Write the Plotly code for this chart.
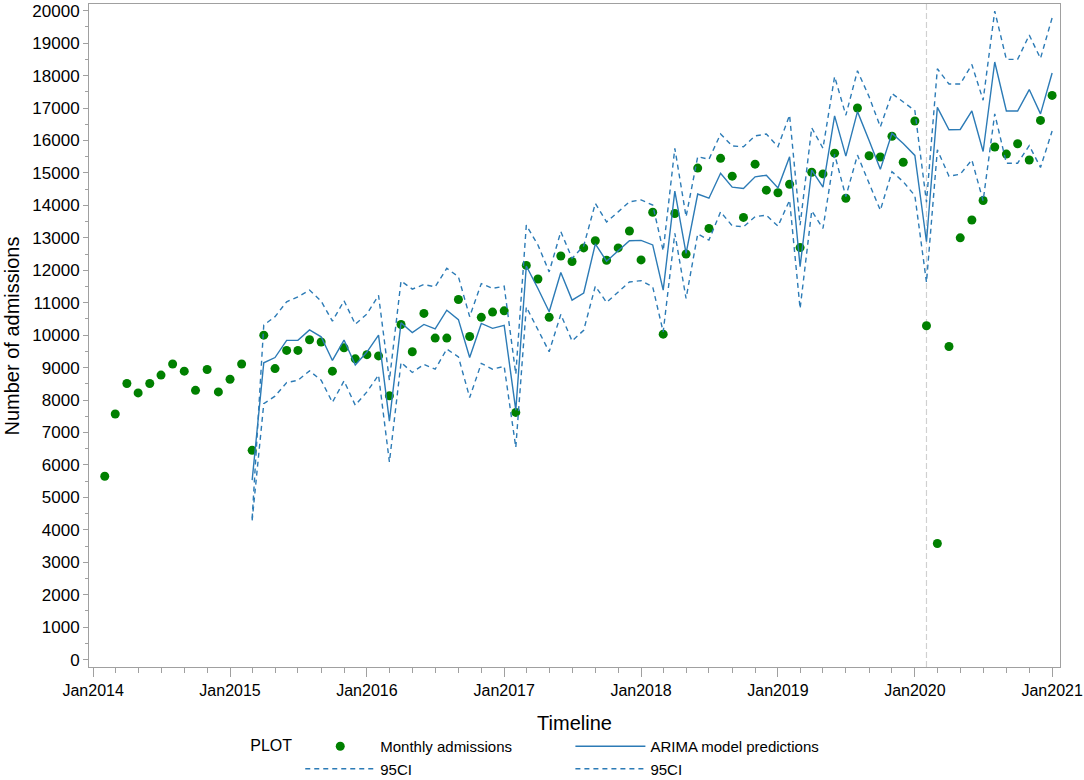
import pandas as pd
import plotly.graph_objects as go

# monthly admissions, Feb 2014 .. Jan 2021
admissions = [
    5650, 7570, 8510, 8220, 8510, 8770, 9110, 8890, 8300, 8940, 8250,
    8640, 9110, 6450, 10000, 8970, 9530, 9530, 9860, 9790, 8890, 9610, 9270,
    9400, 9360, 8130, 10330, 9490, 10670, 9910, 9910, 11100, 9960, 10550, 10710,
    10750, 7620, 12150, 11730, 10550, 12440, 12270, 12690, 12910, 12310, 12690, 13210,
    12320, 13790, 10030, 13750, 12500, 15150, 13290, 15450, 14900, 13630, 15270, 14470,
    14390, 14650, 12700, 15020, 14970, 15610, 14220, 17000, 15530, 15490, 16130, 15330,
    16600, 10290, 3580, 9650, 13000, 13550, 14150, 15800, 15580, 15900, 15400, 16620,
    17390,
]

# ARIMA predictions and 95% limits, Mar 2015 .. Jan 2021
predicted = [
    5530, 9150, 9310, 9840, 9840, 10160, 9950, 9220, 9850, 9080,
    9480, 10000, 7350, 10380, 10080, 10330, 10190, 10770, 10480, 9310, 10360, 10210,
    10300, 7690, 12130, 11440, 10720, 11930, 11080, 11300, 12810, 12280, 12600, 12910,
    12920, 12780, 11390, 14440, 12520, 14350, 14220, 14990, 14560, 14520, 14880, 14930,
    14540, 15500, 12110, 15090, 14560, 16760, 15520, 16890, 16000, 15110, 16220, 15910,
    15540, 12880, 17020, 16330, 16340, 16910, 15660, 18420, 16910, 16910, 17570, 16820,
    18080,
]
upper_ci = [
    4350, 10310, 10570, 11030, 11180, 11390, 11050, 10430, 11060, 10340,
    10650, 11230, 8610, 11670, 11420, 11560, 11490, 12060, 11800, 10570, 11590, 11440,
    11510, 8800, 13390, 12780, 11950, 13190, 12370, 12750, 14060, 13490, 13800, 14110,
    14170, 14010, 12600, 15760, 13650, 15500, 15420, 16200, 15830, 15810, 16140, 16200,
    15810, 16780, 13390, 16390, 15760, 17970, 16780, 18150, 17350, 16420, 17450, 17190,
    16920, 14100, 18210, 17740, 17740, 18340, 17240, 19990, 18500, 18500, 19250, 18530,
    19780,
]
lower_ci = [
    4290, 7890, 8120, 8540, 8610, 8900, 8610, 7930, 8590, 7840,
    8250, 8770, 6090, 9160, 8850, 9100, 8950, 9570, 9330, 8080, 9130, 8950,
    9040, 6540, 10870, 10150, 9490, 10640, 9820, 10150, 11510, 11010, 11340, 11640,
    11680, 11490, 10100, 13140, 11130, 13120, 12930, 13800, 13370, 13340, 13650, 13700,
    13360, 14160, 10820, 13830, 13290, 15570, 14270, 15550, 14680, 13850, 15040, 14730,
    14300, 11630, 15710, 14900, 14960, 15400, 14140, 16820, 15300, 15300, 15840, 15170,
    16290,
]

adm_dates = pd.date_range("2014-02-01", periods=len(admissions), freq="MS")
pred_dates = pd.date_range("2015-03-01", periods=len(predicted), freq="MS")
covid_start = "2020-02-01"

BLUE = "#2c7bb6"
GREEN = "#008000"
AXIS = "#a0a0a0"
FONT = "Liberation Sans, Arial, sans-serif"
dashed = dict(color=BLUE, width=1.4, dash="5px,4px")

fig = go.Figure()
# left legend column: markers + lower limit, right column: prediction + upper limit
fig.add_trace(go.Scatter(x=adm_dates, y=admissions, mode="markers",
                         name="Monthly admissions", legend="legend",
                         marker=dict(color=GREEN, size=9)))
fig.add_trace(go.Scatter(x=pred_dates, y=lower_ci, mode="lines", name="95CI",
                         legend="legend", line=dashed))
fig.add_trace(go.Scatter(x=pred_dates, y=predicted, mode="lines",
                         name="ARIMA model predictions", legend="legend2",
                         line=dict(color=BLUE, width=1.4)))
fig.add_trace(go.Scatter(x=pred_dates, y=upper_ci, mode="lines", name="95CI",
                         legend="legend2", line=dashed))

# reference line at start of the pandemic period
fig.add_shape(type="line", xref="x", yref="paper", x0=covid_start, x1=covid_start,
              y0=0, y1=1, line=dict(color="#d0d0d0", width=1.2, dash="6px,3px"),
              layer="below")

# y title as a rotated annotation (axis title got misplaced with two legends)
fig.add_annotation(text="Number of admissions", textangle=-90, showarrow=False,
                   xref="paper", yref="paper", x=-0.0793, y=0.5,
                   xanchor="center", yanchor="middle", font=dict(size=20))

legend_common = dict(orientation="v", xref="container", yref="container",
                     xanchor="left", y=0.0641, yanchor="top", itemwidth=70,
                     tracegroupgap=0, font=dict(size=15), bgcolor="rgba(0,0,0,0)")

fig.update_layout(
    width=1084, height=780,
    margin=dict(l=89, r=24, t=4, b=113, autoexpand=False),
    plot_bgcolor="white", paper_bgcolor="white",
    font=dict(family=FONT, size=17, color="black"),
    showlegend=True,
    legend=dict(x=0.229, title=dict(text="PLOT", side="left", font=dict(size=16)),
                **legend_common),
    legend2=dict(x=0.5262, **legend_common),
)
fig.update_xaxes(
    type="date", range=["2013-12-21", "2021-01-22"],
    dtick="M12", tick0="2014-01-01", tickformat="%b%Y",
    ticks="outside", ticklen=9, tickcolor=AXIS, ticklabeloverflow="allow",
    minor=dict(dtick="M2", tick0="2014-01-01", ticks="outside", ticklen=5,
               tickcolor=AXIS, showgrid=False),
    showline=True, linecolor=AXIS, mirror=True, showgrid=False, zeroline=False,
    title=dict(text="Timeline", font=dict(size=20), standoff=17),
    tickfont=dict(size=16),
)
fig.update_yaxes(
    range=[-228, 20207], dtick=1000, tick0=0, tickformat="d",
    ticks="outside", ticklen=5, tickcolor=AXIS,
    minor=dict(dtick=500, ticks="outside", ticklen=3, tickcolor=AXIS, showgrid=False),
    showline=True, linecolor=AXIS, mirror=True, showgrid=False, zeroline=False,
    tickfont=dict(size=17),
)

# drop the default 8px page margin so the figure fills the window
fig.write_html("out.html", config={"displayModeBar": False},
               post_script="document.body.style.margin='0';")
